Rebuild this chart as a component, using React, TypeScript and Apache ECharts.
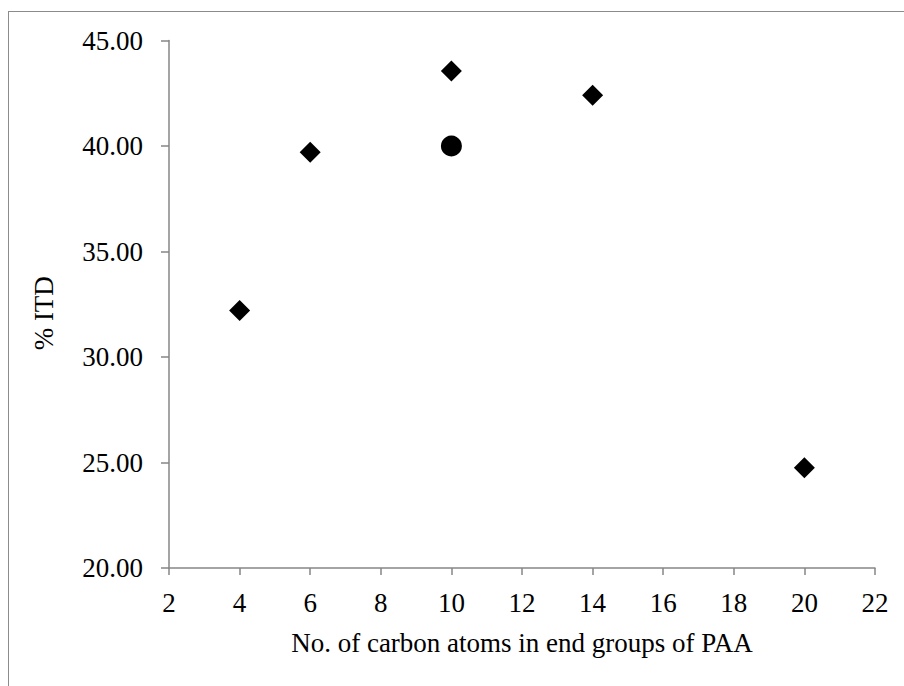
import React, { useEffect, useRef } from "react";
import * as echarts from "echarts";

const diamondX = [4, 6, 10, 14, 20];
const diamondY = [32.2, 39.7, 43.55, 42.4, 24.75];
const circleX = [10];
const circleY = [40.0];

const xTicks = [2, 4, 6, 8, 10, 12, 14, 16, 18, 20, 22];
const yTicks = [20, 25, 30, 35, 40, 45];

const xTitle = "No. of carbon atoms in end groups of PAA";
const yTitle = "% ITD";

const FONT = "27px 'Liberation Serif'";

export default function App() {
  const ref = useRef<HTMLDivElement>(null);
  useEffect(() => {
    if (!ref.current) return;
    const chart = echarts.init(ref.current, null, { renderer: "svg", width: 895, height: 674 });
    const axisLine = { show: true, lineStyle: { color: "#868686", width: 1.5 } };
    chart.setOption({
      animation: false,
      backgroundColor: "#ffffff",
      grid: { left: 160, right: 29, top: 28.5, bottom: 118, containLabel: false },
      xAxis: {
        type: "value",
        min: xTicks[0],
        max: xTicks[xTicks.length - 1],
        interval: 2,
        axisLine,
        axisTick: { show: true, inside: false, length: 7, lineStyle: { color: "#868686", width: 1.5 } },
        splitLine: { show: false },
        axisLabel: { show: false },
      },
      yAxis: {
        type: "value",
        min: yTicks[0],
        max: yTicks[yTicks.length - 1],
        interval: 5,
        axisLine,
        axisTick: { show: true, inside: false, length: 8, lineStyle: { color: "#868686", width: 1.5 } },
        splitLine: { show: false },
        axisLabel: { show: false },
      },
      series: [
        {
          type: "scatter",
          symbol: "diamond",
          symbolSize: 21,
          itemStyle: { color: "#000", opacity: 1 },
          data: diamondX.map((x, i) => [x, diamondY[i]]),
        },
        {
          type: "scatter",
          symbol: "circle",
          symbolSize: 21,
          itemStyle: { color: "#000", opacity: 1 },
          data: circleX.map((x, i) => [x, circleY[i]]),
        },
      ],
    });

    const toPx = (xv: number, yv: number) =>
      chart.convertToPixel({ gridIndex: 0 }, [xv, yv]) as number[];
    const yMin = yTicks[0];
    const xMin = xTicks[0];
    const xMid = (xTicks[0] + xTicks[xTicks.length - 1]) / 2;
    const yMid = (yTicks[0] + yTicks[yTicks.length - 1]) / 2;
    const txt = (text: string, x: number, y: number, align: string, rotation = 0) => ({
      type: "text",
      x,
      y,
      rotation,
      silent: true,
      style: {
        text,
        font: FONT,
        fill: "#000",
        align,
        verticalAlign: "middle",
      },
    });
    const graphics: any[] = [];
    xTicks.forEach((v) => {
      const p = toPx(v, yMin);
      graphics.push(txt(String(v), p[0], p[1] + 35, "center"));
    });
    yTicks.forEach((v) => {
      const p = toPx(xMin, v);
      graphics.push(txt(v.toFixed(2), p[0] - 26, p[1], "right"));
    });
    const bm = toPx(xMid, yMin);
    graphics.push(txt(xTitle, bm[0], bm[1] + 75, "center"));
    const lm = toPx(xMin, yMid);
    graphics.push(txt(yTitle, lm[0] - 125, lm[1] + 9, "center", Math.PI / 2));
    chart.setOption({ graphic: graphics });

    return () => chart.dispose();
  }, []);
  return (
    <div
      style={{
        position: "fixed",
        left: 0,
        top: 0,
        width: 904,
        height: 686,
        overflow: "hidden",
        background: "#fff",
      }}
    >
      <div
        style={{
          position: "absolute",
          left: 8,
          top: 11,
          borderTop: "1.5px solid #8c8c8c",
          borderLeft: "1.5px solid #8c8c8c",
          width: 910,
          height: 690,
        }}
      >
        <div ref={ref} style={{ width: 895, height: 674 }} />
      </div>
    </div>
  );
}
